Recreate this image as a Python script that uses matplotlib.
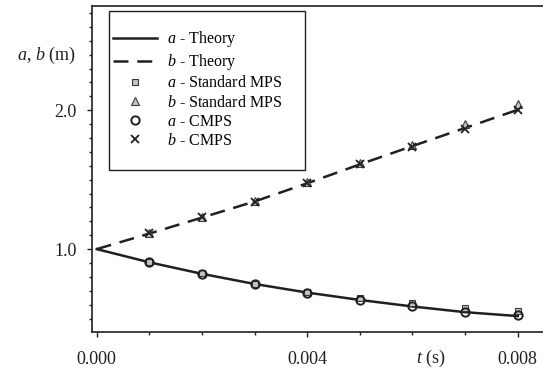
import matplotlib
matplotlib.use("Agg")
import matplotlib.pyplot as plt
from matplotlib.patches import Rectangle
from matplotlib.ticker import MultipleLocator, FormatStrFormatter

plt.rcParams['font.family'] = 'Liberation Serif'
plt.rcParams['mathtext.fontset'] = 'custom'
plt.rcParams['mathtext.rm'] = 'Liberation Serif'
plt.rcParams['mathtext.it'] = 'Liberation Serif:italic'

ink = '#231f20'
grey = '#c4c4c4'

# theory curves (read at 0.001 s steps)
t_theory = [0.0, 0.001, 0.002, 0.003, 0.004, 0.005, 0.006, 0.007, 0.008]
a_theory = [1.0, 0.905, 0.822, 0.749, 0.687, 0.634, 0.587, 0.546, 0.518]
b_theory = [1.0, 1.112, 1.227, 1.343, 1.474, 1.610, 1.742, 1.872, 2.003]

# simulation points
t_sim = [0.001, 0.002, 0.003, 0.004, 0.005, 0.006, 0.007, 0.008]
a_mps = [0.908, 0.825, 0.752, 0.690, 0.650, 0.614, 0.573, 0.556]
b_mps = [1.116, 1.232, 1.345, 1.482, 1.620, 1.748, 1.904, 2.043]
a_cmps = [0.906, 0.822, 0.748, 0.686, 0.633, 0.590, 0.545, 0.523]
b_cmps = [1.113, 1.228, 1.340, 1.477, 1.612, 1.736, 1.868, 2.005]

fig = plt.figure(figsize=(5.43, 3.77), dpi=100)
ax = fig.add_axes([0.170, 0.120, 0.830, 0.864])

ax.plot(t_theory, a_theory, '-', color=ink, lw=1.8, label='$a$ - Theory')
ax.plot(t_theory, b_theory, '--', color=ink, lw=1.8, dashes=(6, 3.5), label='$b$ - Theory')
ax.plot(t_sim, a_mps, 's', ms=5, mfc=grey, mec='#3a3a3a', mew=0.8, label='$a$ - Standard MPS')
ax.plot(t_sim, b_mps, '^', ms=5.5, mfc=grey, mec='#3a3a3a', mew=0.8, label='$b$ - Standard MPS')
ax.plot(t_sim, a_cmps, 'o', ms=6, mfc='none', mec=ink, mew=1.4, label='$a$ - CMPS')
ax.plot(t_sim, b_cmps, 'x', ms=5.5, color=ink, mew=1.3, label='$b$ - CMPS')

ax.set_xlim(-0.000084, 0.00848)
ax.set_ylim(0.405, 2.75)

ax.xaxis.set_major_locator(MultipleLocator(0.004))
ax.xaxis.set_minor_locator(MultipleLocator(0.001))
ax.xaxis.set_major_formatter(FormatStrFormatter('%.3f'))
ax.yaxis.set_major_locator(MultipleLocator(1.0))
ax.yaxis.set_minor_locator(MultipleLocator(0.1))
ax.yaxis.set_major_formatter(FormatStrFormatter('%.1f'))

ax.tick_params(which='both', direction='out', colors=ink, labelsize=13, width=1.0)
ax.tick_params(which='major', length=3.5)
ax.tick_params(which='minor', length=2.5)
ax.tick_params(axis='x', which='both', pad=10, top=False)
ax.tick_params(axis='y', which='both', pad=8, right=False)

ax.spines['right'].set_visible(False)
for s in ['left', 'bottom', 'top']:
    ax.spines[s].set_color(ink)
    ax.spines[s].set_linewidth(1.2)

# legend frame drawn separately so padding can differ per side
ax.add_patch(Rectangle((0.0377, 0.4955), 0.4347, 0.4893, transform=ax.transAxes,
                       fill=False, edgecolor=ink, lw=1.0, zorder=5))
ax.legend(loc='upper left', bbox_to_anchor=(0.038, 0.938), frameon=False,
          fontsize=11.5, handlelength=2.8, handletextpad=0.6,
          labelspacing=0.19, borderpad=0.2, borderaxespad=0)

fig.text(0.085, 0.852, '$a$, $b$ (m)', fontsize=13, color=ink, ha='center', va='center')
fig.text(0.794, 0.05, '$t$ (s)', fontsize=13, color=ink, ha='center', va='center')

fig.savefig('out.png', dpi=100)
